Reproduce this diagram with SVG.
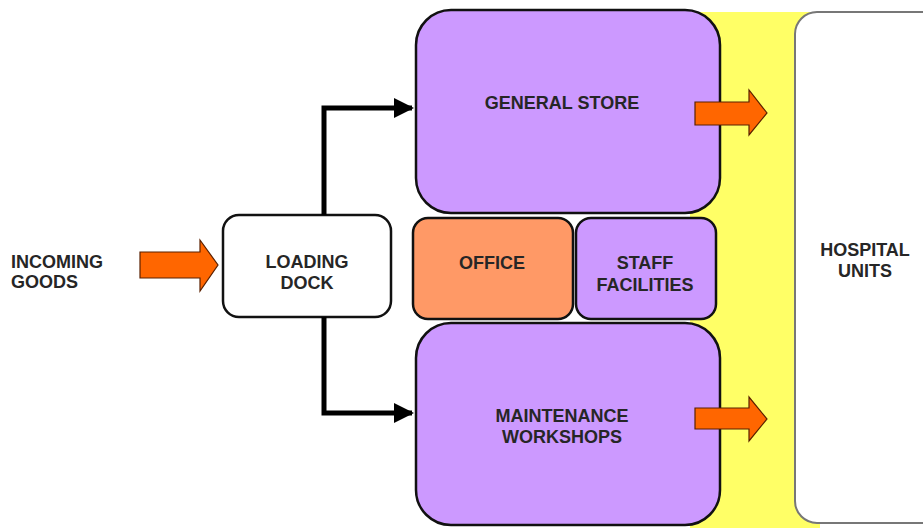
<svg xmlns="http://www.w3.org/2000/svg" width="923" height="528" viewBox="0 0 923 528">
<style>
text{font-family:"Liberation Sans",Arial,sans-serif;font-weight:bold;font-size:18px;fill:#262626;text-anchor:middle}
.box{stroke:#111;stroke-width:2.5}
.purple{fill:#CC99FF}
.fat{fill:#FF6600;stroke:#5a2000;stroke-width:1.2}
.conn{fill:none;stroke:#000;stroke-width:5}
</style>
<defs>
<marker id="ah" viewBox="0 0 10 10" refX="9" refY="5" markerWidth="4" markerHeight="4" orient="auto" markerUnits="strokeWidth">
<path d="M0,0 L10,5 L0,10 z" fill="#000"/>
</marker>
</defs>
<rect width="923" height="528" fill="#fff"/>
<rect x="690" y="12" width="130" height="516" fill="#FFFF66"/>
<g id="hospital">
<rect x="795" y="12" width="160" height="511" rx="22" fill="#fff" stroke="#777" stroke-width="2"/>
<text x="865" y="256">HOSPITAL</text>
<text x="865" y="277">UNITS</text>
</g>
<g id="incoming">
<text x="11" y="268" style="text-anchor:start">INCOMING</text>
<text x="11" y="288" style="text-anchor:start">GOODS</text>
</g>
<g id="loading-dock">
<rect class="box" x="223" y="215" width="168" height="102" rx="16" fill="#fff"/>
<text x="307" y="268">LOADING</text>
<text x="307" y="289">DOCK</text>
</g>
<g id="general-store">
<rect class="box purple" x="416" y="10" width="304" height="203" rx="35"/>
<text x="562" y="109">GENERAL STORE</text>
</g>
<g id="office">
<rect class="box" x="413" y="218" width="160" height="101" rx="15" fill="#FF9966"/>
<text x="492" y="269">OFFICE</text>
</g>
<g id="staff-facilities">
<rect class="box purple" x="576" y="218" width="140" height="101" rx="15"/>
<text x="645" y="269">STAFF</text>
<text x="645" y="291">FACILITIES</text>
</g>
<g id="maintenance">
<rect class="box purple" x="416" y="323" width="304" height="202" rx="35"/>
<text x="562" y="422">MAINTENANCE</text>
<text x="562" y="443">WORKSHOPS</text>
</g>
<g id="connectors">
<path class="conn" d="M324,215 V108 H412" marker-end="url(#ah)"/>
<path class="conn" d="M324,317 V413 H412" marker-end="url(#ah)"/>
<path class="fat" d="M140,252 H200 V240 L218,265 L200,291 V278 H140 Z"/>
<path class="fat" d="M695,102 H749 V90 L767,113 L749,135 V125 H695 Z"/>
<path class="fat" d="M695,408 H749 V397 L767,419 L749,441 V429 H695 Z"/>
</g>
</svg>
